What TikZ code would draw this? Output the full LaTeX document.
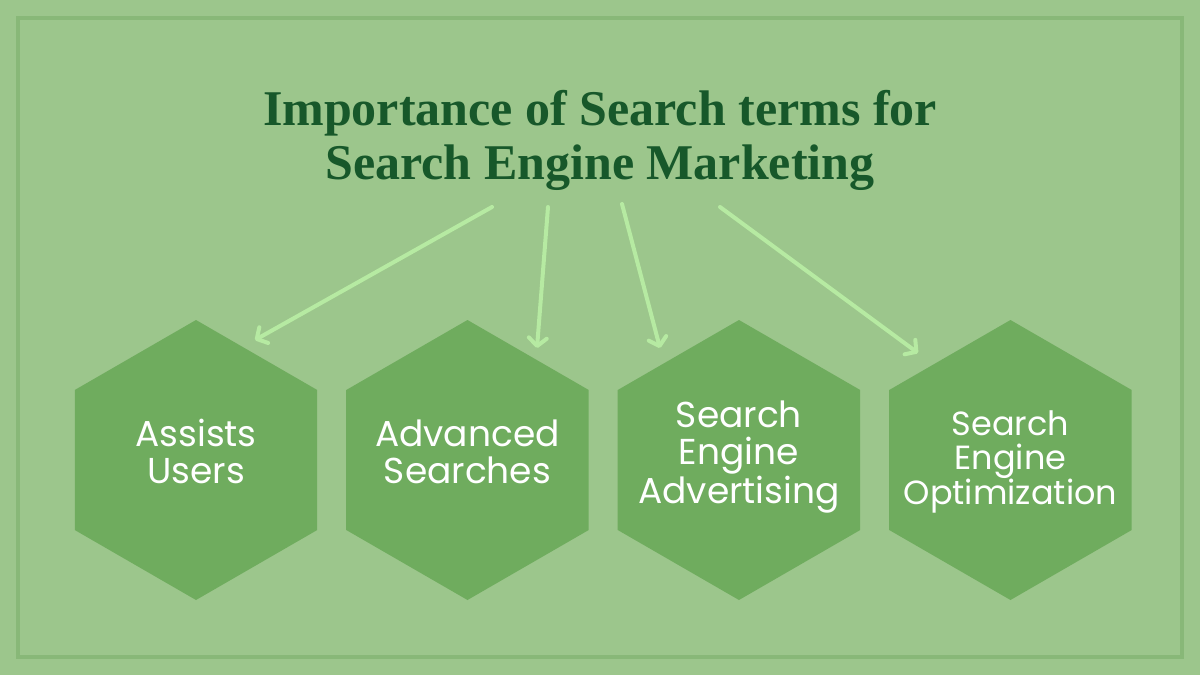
\documentclass[tikz,border=0pt]{standalone}
\usepackage{fontspec}
\setmainfont{Liberation Serif}
\newfontfamily\hexfont{Poppins}
\usetikzlibrary{
    arrows.meta,
    shapes.geometric,
    positioning
}
\definecolor{bggreen}{HTML}{9CC68C}
\definecolor{framegreen}{HTML}{88B878}
\definecolor{hexgreen}{HTML}{6FAC5E}
\definecolor{arrowgreen}{HTML}{B6EAA2}
\definecolor{titlegreen}{HTML}{17582A}

\begin{document}
\begin{tikzpicture}[x=1pt,y=-1pt,
    hex/.style={regular polygon, regular polygon sides=6, shape border rotate=30,
        minimum size=280pt, inner sep=0pt, outer sep=0pt, fill=hexgreen},
    hextext/.style={text=white, align=center, inner sep=0pt,
        font=\hexfont\fontsize{36}{37}\selectfont},
    pointer/.style={-{Straight Barb[length=8pt,width=18pt,round]},
        line width=4pt, draw=arrowgreen, line cap=round}]
    \fill[bggreen] (0,0) rectangle (1200,675);
    \draw[framegreen, line width=4pt] (18,18) rectangle (1182,657);

    \node[text=titlegreen, align=center, font=\bfseries\fontsize{50}{54}\selectfont]
        (title) at (600,140) {Importance of Search terms for\\Search Engine Marketing};

    \node[hex] (assist) at (196,460) {};
    \node[hex] (advanced) [right=29pt of assist] {};
    \node[hex] (advert) [right=29pt of advanced] {};
    \node[hex] (optim) [right=29pt of advert] {};

    \node[hextext] (assisttext) at ([yshift=8.5pt]assist.center) {Assists\\Users};
    \node[hextext] (advancedtext) at ([yshift=8.5pt]advanced.center) {Advanced\\Searches};
    \node[hextext] (adverttext) at ([yshift=3pt]advert.center) {Search\\Engine\\Advertising};
    \node[hextext, font=\hexfont\fontsize{33.5}{34}\selectfont] (optimtext)
        at ([yshift=-2pt]optim.center) {Search\\Engine\\Optimization};

    \coordinate (s1) at (492,207);
    \coordinate (s2) at (548,207);
    \coordinate (s3) at (622,204);
    \coordinate (s4) at (720,207);
    \coordinate (e1) at (255,340);
    \coordinate (e2) at (537,348);
    \coordinate (e3) at (660,348);
    \coordinate (e4) at (918,353);

    \draw[pointer] (s1) -- (e1);
    \draw[pointer] (s2) -- (e2);
    \draw[pointer] (s3) -- (e3);
    \draw[pointer] (s4) -- (e4);
\end{tikzpicture}
\end{document}
